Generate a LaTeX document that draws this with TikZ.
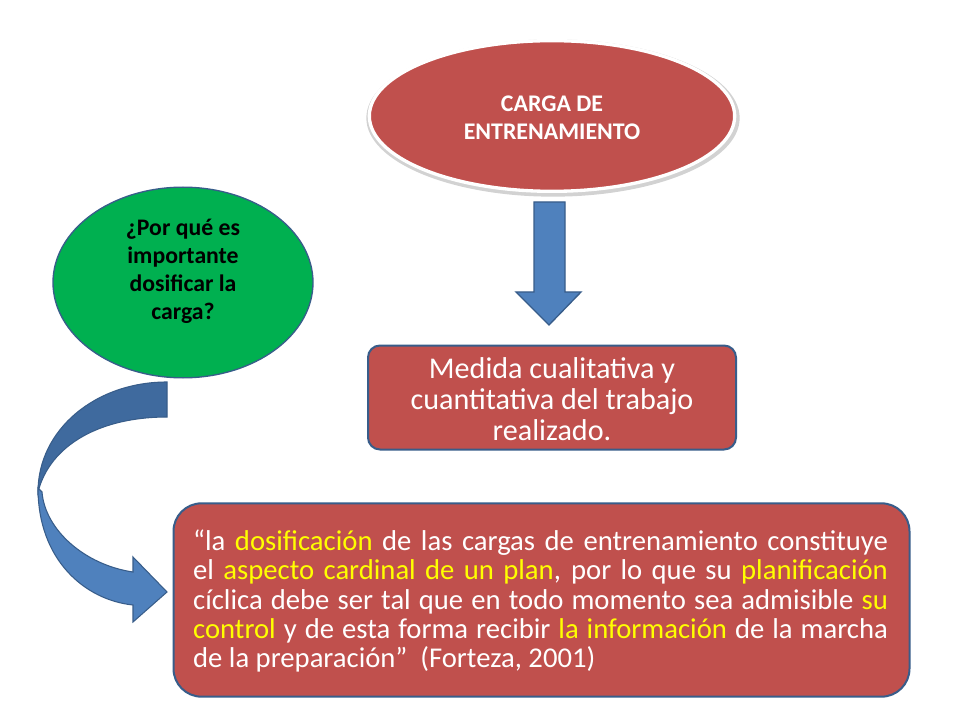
\documentclass[tikz,border=0pt]{standalone}
\usepackage{fontspec}
\setmainfont{Carlito}
\usetikzlibrary{shapes.geometric,calc}
\definecolor{pred}{HTML}{C0504D}
\definecolor{pblue}{HTML}{4F81BD}
\definecolor{pdark}{HTML}{385D8A}
\definecolor{pblued}{HTML}{3F6A9E}
\definecolor{pgreen}{HTML}{00B050}
\definecolor{ayel}{HTML}{FFFF00}
\newcommand{\hl}[1]{\textcolor{ayel}{#1}}
\tikzset{
  redbox/.style={rectangle, fill=pred, draw=pdark, line width=1.5pt},
  blockarrow/.style={fill=pblue, draw=pdark, line width=1pt},
}
\begin{document}
\begin{tikzpicture}[x=0.75pt,y=-0.75pt]
\useasboundingbox[fill=white] (0,0) rectangle (960,720);
% top ellipse
\node[ellipse, fill=gray!35, minimum width=280pt, minimum height=118pt, inner sep=0pt] (topsh) at (553,118) {};
\node[ellipse, fill=pred, draw=white, line width=2.5pt, minimum width=274pt, minimum height=113pt, inner sep=0pt] (top) at (552,116) {};
\node[align=center, text=white, font=\bfseries\fontsize{17.9}{21}\selectfont] (toptext) at (552,118) {CARGA DE\\ENTRENAMIENTO};
% down arrow
\draw[blockarrow] (534,202) -- (565,202) -- (565,292) -- (581,292) -- (549,325) -- (516,292) -- (534,292) -- cycle;
% medida box
\node[redbox, rounded corners=9pt, minimum width=276pt, minimum height=78pt] (medida) at (552,397.5) {};
\node[align=center, text=white, font=\fontsize{22.6}{23.5}\selectfont] (medtext) at (552,399) {Medida cualitativa y\\cuantitativa del trabajo\\realizado.};
% green ellipse
\node[ellipse, fill=pgreen, draw=pdark, line width=1pt, minimum width=195pt, minimum height=143pt, inner sep=0pt] (green) at (183,282.5) {};
\node[align=center, text=black, font=\bfseries\fontsize{17.8}{21}\selectfont] (greentext) at (183,271) {¿Por qué es\\importante\\dosificar la\\carga?};
% curved arrow
\draw[fill=pblued, draw=pdark, line width=0.8pt] (167,382) .. controls (95,382) and (38,430) .. (38,492) .. controls (50,445) and (100,417) .. (167,417) -- cycle;
\draw[blockarrow, line width=0.8pt] (38,488) .. controls (38,560) and (85,600) .. (133,605) -- (133,622) -- (167,592) -- (133,557) -- (133,572) .. controls (85,565) and (45,530) .. (42,492) -- cycle;
% bottom box
\node[redbox, rounded corners=21pt, minimum width=552pt, minimum height=145pt] (quote) at (541.5,600) {};
\node[text width=521pt, align=justify, text=white, font=\fontsize{21.5}{21.8}\selectfont, inner sep=0pt] (quotetext) at (540.5,601)
{“la \hl{dosificación} de las cargas de entrenamiento constituye\linebreak el \hl{aspecto cardinal de un plan}, por lo que su \hl{planificación}\linebreak cíclica debe ser tal que en todo momento sea admisible \hl{su}\linebreak \hl{control} y de esta forma recibir \hl{la información} de la marcha\linebreak de la preparación”\ \ (Forteza, 2001)};
\end{tikzpicture}
\end{document}
